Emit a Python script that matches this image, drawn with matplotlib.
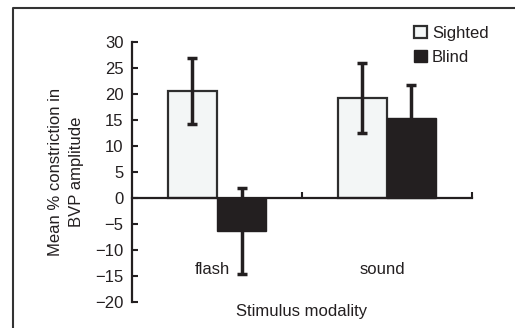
"""Bar chart: BVP amplitude constriction by stimulus modality (sighted vs blind)."""

import matplotlib

matplotlib.use("Agg")
import matplotlib.pyplot as plt
import numpy as np
from matplotlib.lines import Line2D

plt.rcParams["font.family"] = ["Liberation Sans", "DejaVu Sans"]

categories = ["flash", "sound"]
groups = ["Sighted", "Blind"]
sighted_mean = [20.6, 19.3]
sighted_err = [6.3, 6.7]
blind_mean = [-6.3, 15.5]
blind_err = [8.3, 6.2]

_INK = "#231f20"
_LIGHT = "#f3f6f6"
_FS = 12

fig = plt.figure(figsize=(5.15, 3.28), dpi=100)
ax = fig.add_axes([0.2563, 0.0802, 0.6596, 0.7908])

x = np.arange(len(categories))
width = 0.29
err_kw = dict(ecolor=_INK, elinewidth=2.5, capsize=3.5, capthick=2.5)

ax.bar(x - width / 2, sighted_mean, width, color=_LIGHT, edgecolor="#2e2e2e",
       linewidth=1.6, label=groups[0], zorder=2)
ax.bar(x + width / 2, blind_mean, width, color=_INK, edgecolor=_INK,
       linewidth=1.0, label=groups[1], zorder=2)
ax.errorbar(x - width / 2, sighted_mean, yerr=sighted_err, fmt="none", zorder=3, **err_kw)
ax.errorbar(x + width / 2, blind_mean, yerr=blind_err, fmt="none", zorder=1.5, **err_kw)

ax.set_xlim(-0.5, 1.5)
ax.set_ylim(-20, 30)
ax.set_yticks(np.arange(-20, 31, 5))
ax.set_xticks([0.5, 1.5])
ax.set_xticklabels([])

ax.spines["top"].set_visible(False)
ax.spines["right"].set_visible(False)
ax.spines["bottom"].set_position(("data", 0))
ax.spines["left"].set_color(_INK)
ax.spines["bottom"].set_color(_INK)
ax.spines["left"].set_linewidth(1.6)
ax.spines["bottom"].set_linewidth(1.6)
ax.tick_params(axis="both", direction="in", length=4, width=1.5, color=_INK)
ax.tick_params(axis="y", labelsize=_FS, labelcolor=_INK, pad=6)
ax.set_facecolor("none")

for xi, name in zip(x, categories):
    ax.text(xi - 0.025, -13.7, name, ha="center", va="center",
            fontsize=_FS, color=_INK)

fig.text(0.128, 0.476, "Mean % constriction in\nBVP amplitude", rotation=90,
         ha="center", va="center", fontsize=_FS, color=_INK, linespacing=1.5)
fig.text(0.586, 0.049, "Stimulus modality", ha="center", va="center",
         fontsize=_FS, color=_INK)

leg = ax.legend(loc="upper left", bbox_to_anchor=(0.812, 1.09), frameon=False,
                fontsize=_FS, handlelength=0.75, handleheight=0.75,
                handletextpad=0.3, labelspacing=0.55, borderaxespad=0)
for txt in leg.get_texts():
    txt.set_color(_INK)

# outer frame (top and left edges)
fx = 12.5 / 515
fy = 1 - 8 / 328
fig.add_artist(Line2D([fx, fx, 1], [0, fy, fy], transform=fig.transFigure,
                      color="#333333", linewidth=1.5))

fig.savefig("out.png", dpi=100, facecolor="white")
plt.close(fig)
